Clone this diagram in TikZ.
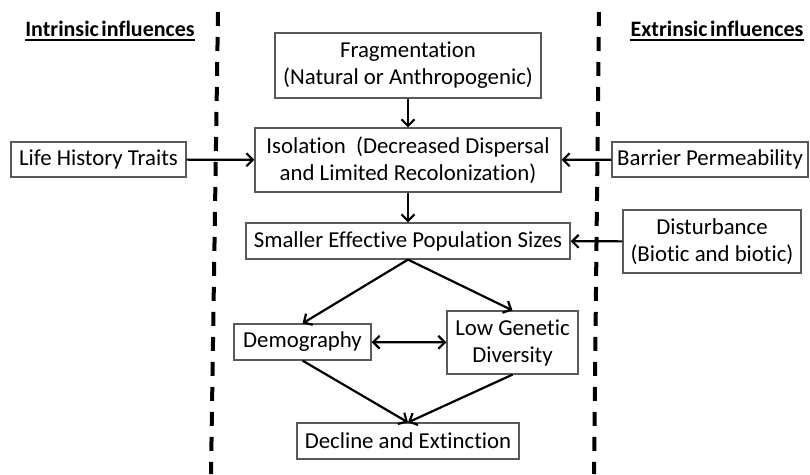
\documentclass[tikz,border=0pt]{standalone}
\usepackage{fontspec}
\setmainfont{Carlito}[Ligatures={NoCommon}]
\usetikzlibrary{arrows.meta}
\begin{document}
\begin{tikzpicture}[x=1pt,y=-1pt,
  box/.style={draw=black!65, line width=1.2pt, fill=white, align=center,
    inner sep=0pt, font=\fontsize{22.8}{27}\selectfont},
  flow/.style={-{Straight Barb[length=6.5pt,width=13pt]}, line width=2.2pt},
  twoway/.style={{Straight Barb[length=6.5pt,width=13pt]}-{Straight Barb[length=6.5pt,width=13pt]}, line width=2.2pt},
  divider/.style={line width=4pt, dash pattern=on 14pt off 11pt},
  head/.style={font=\bfseries\fontsize{22}{26}\selectfont, inner sep=0pt, anchor=base}]
\useasboundingbox (0,0) rectangle (810,474);

% dividing lines
\draw[divider] (218,12) -- (211,474);
\draw[divider] (599,12) -- (594,474);

% column headings
\node[head] (ih) at (110,36) {Intrinsic\hspace{0.12em}influences};
\node[head] (eh) at (717,36) {Extrinsic\hspace{0.12em}influences};
\draw[line width=1.5pt] ([yshift=-4pt]ih.base west) -- ([yshift=-4pt]ih.base east);
\draw[line width=1.5pt] ([yshift=-4pt]eh.base west) -- ([yshift=-4pt]eh.base east);

% boxes
\node[box, minimum width=266pt, minimum height=65pt] (frag) at (408,65.5) {Fragmentation\\(Natural or Anthropogenic)};
\node[box, minimum width=306pt, minimum height=64pt] (iso) at (408,160) {Isolation~~(Decreased Dispersal\\and Limited Recolonization)};
\node[box, minimum width=175pt, minimum height=35pt] (lht) at (98.5,159.5) {Life History Traits};
\node[box, minimum width=196pt, minimum height=35pt] (bar) at (710,159.5) {Barrier Permeability};
\node[box, minimum width=178pt, minimum height=63pt] (dist) at (712,241.5) {Disturbance\\(Biotic and biotic)};
\node[box, minimum width=324pt, minimum height=36pt] (small) at (408,241) {Smaller Effective Population Sizes};
\node[box, minimum width=137pt, minimum height=36pt] (demo) at (302.5,342) {Demography};
\node[box, minimum width=131pt, minimum height=63pt] (lgd) at (512.5,342.5) {Low Genetic\\Diversity};
\node[box, minimum width=222pt, minimum height=36pt] (decl) at (408,441) {Decline and Extinction};

% connectors
\draw[flow] (frag) -- (iso);
\draw[flow] (lht) -- (iso);
\draw[flow] (bar) -- (iso);
\draw[flow] (iso) -- (small);
\draw[flow] (dist) -- (small);
\draw[flow] (small.south) -- (demo.north);
\draw[flow] (small.south) -- (lgd.north);
\draw[twoway] (demo) -- (lgd);
\draw[flow] (demo.south) -- (decl.north);
\draw[flow] (lgd.south) -- (decl.north);
\end{tikzpicture}
\end{document}
